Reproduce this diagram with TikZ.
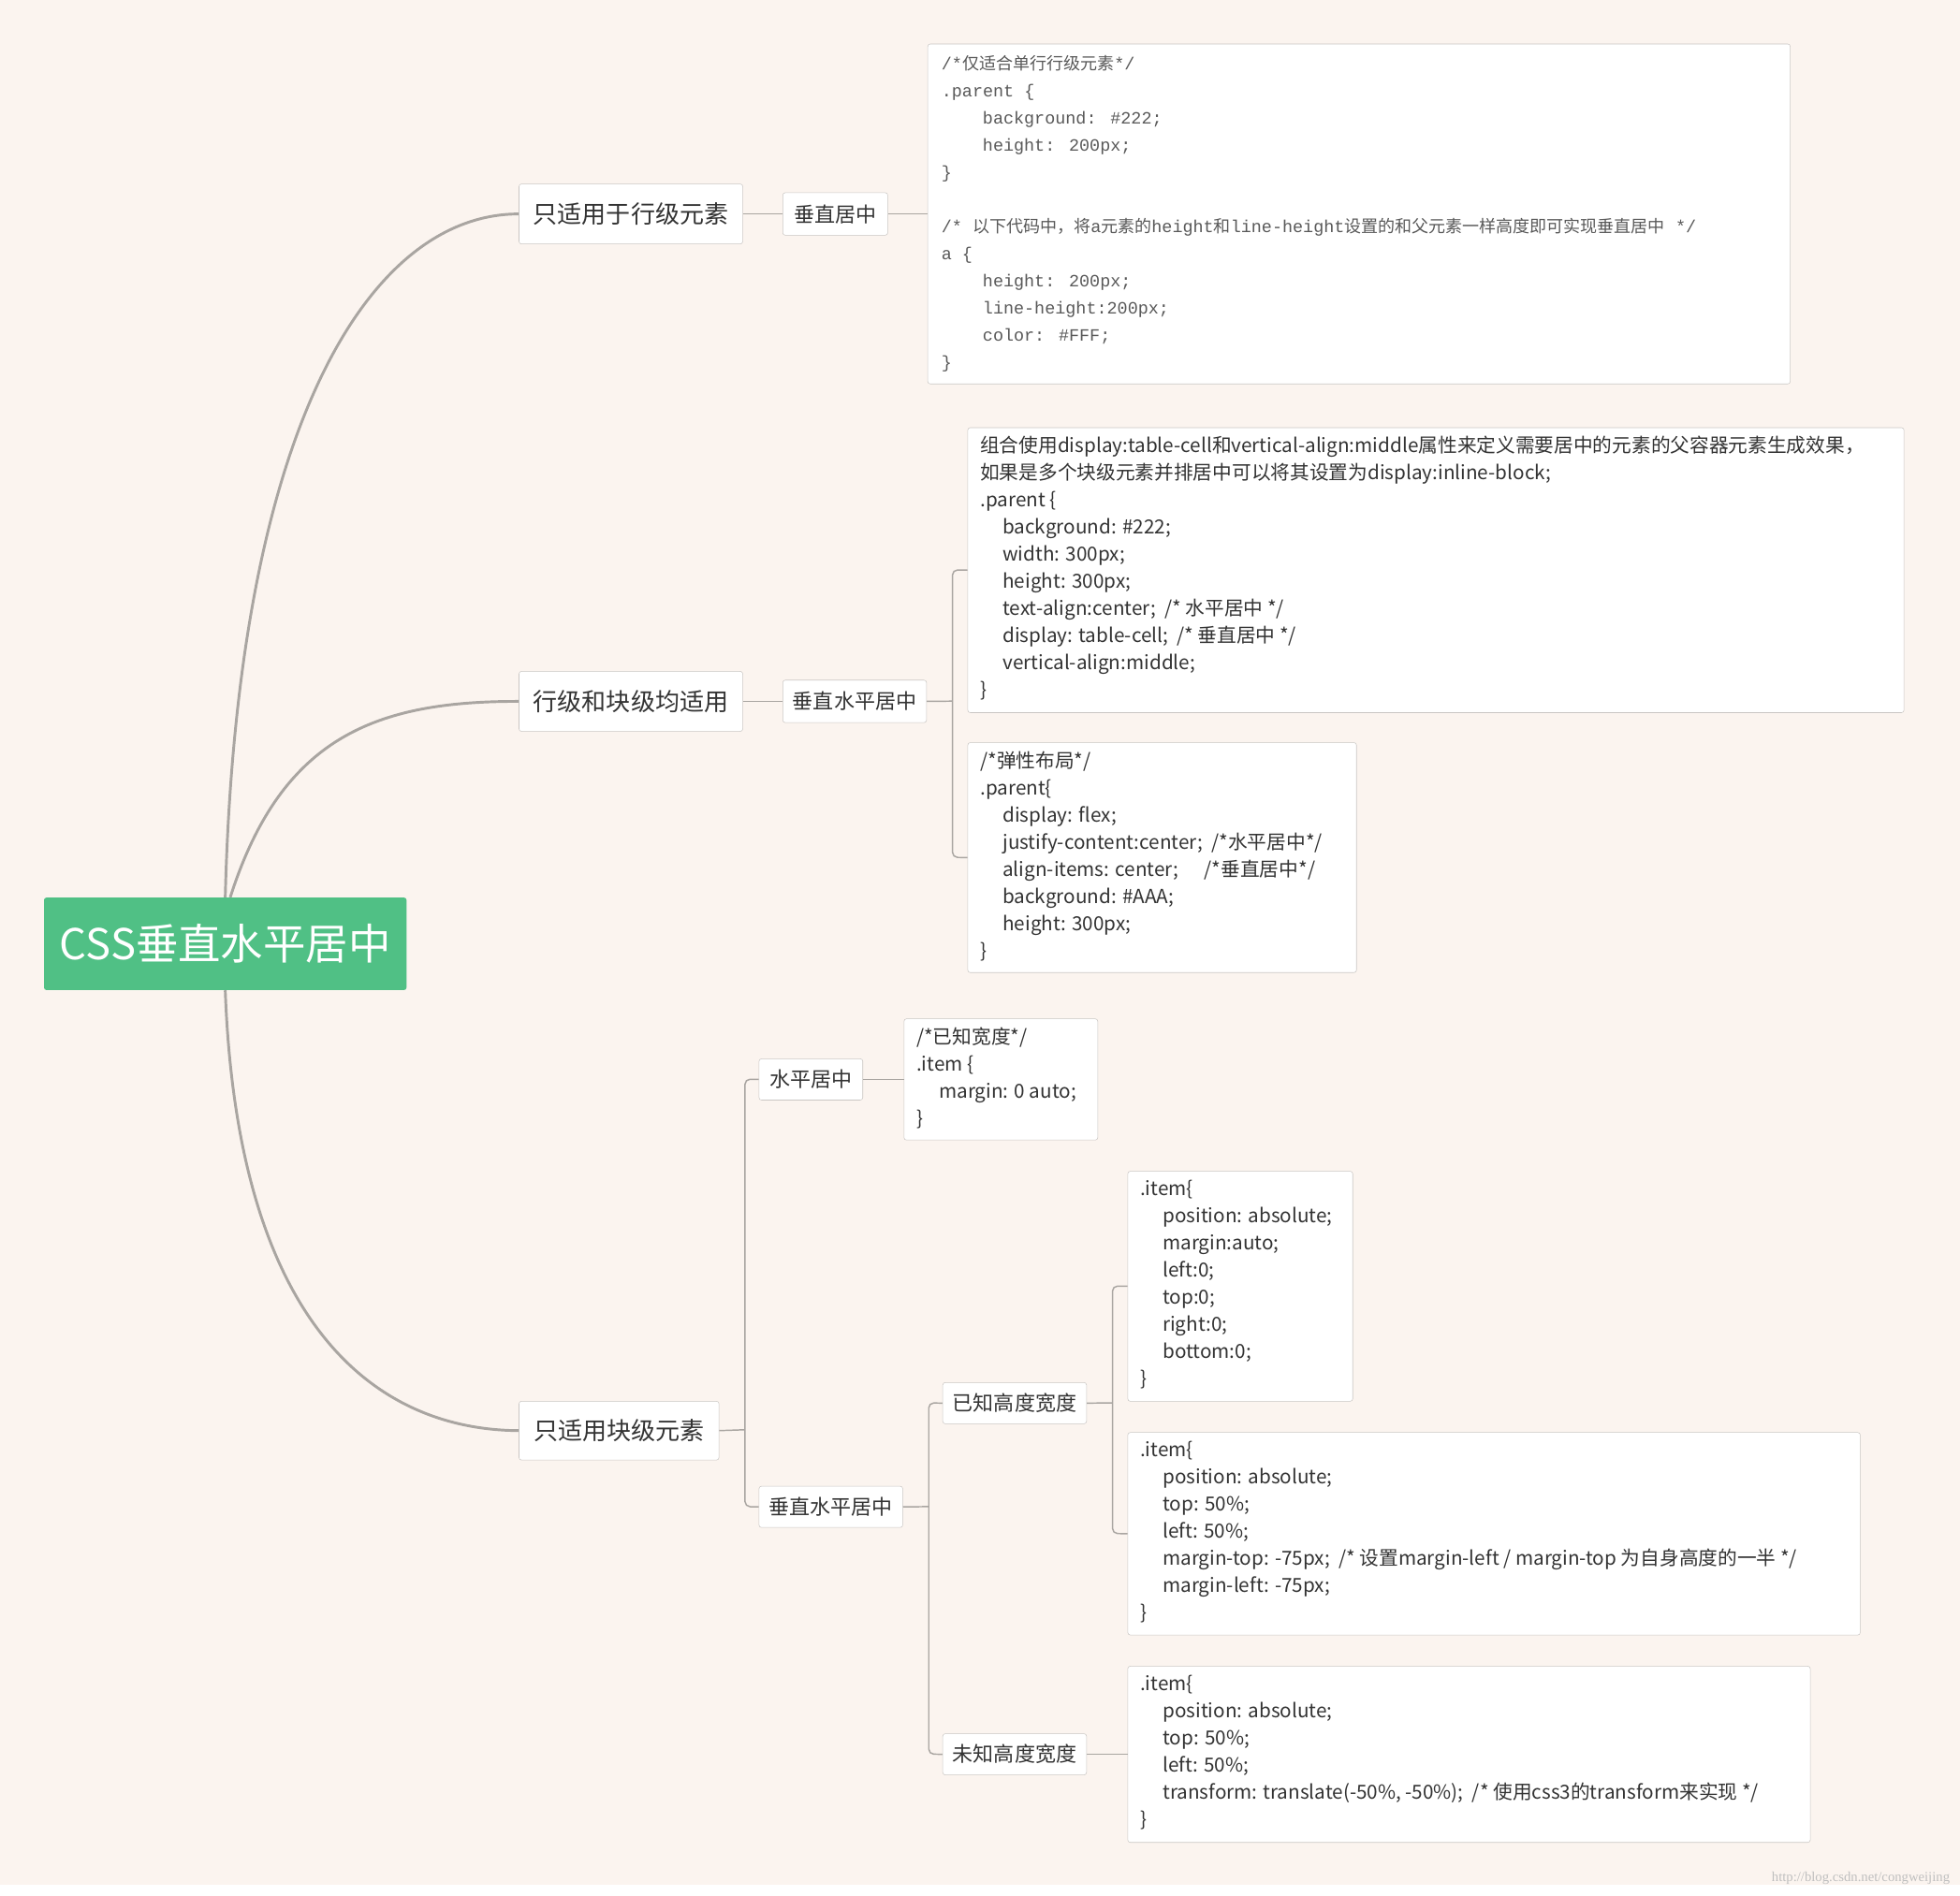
\documentclass[tikz,border=0pt]{standalone}
\usepackage{fontspec}
\setmainfont{Noto Sans CJK SC}
\newfontfamily\monof{Liberation Mono}
\newfontfamily\cjkf{Noto Sans CJK SC}
\newcommand\zh[1]{{\cjkf\fontsize{13.5}{21.7}\selectfont #1}}
\newcommand\ind{\hspace*{18pt}}
\newcommand\mind{\hspace*{33pt}}
\definecolor{bg}{HTML}{FBF4EF}
\definecolor{lnk}{HTML}{A9A5A1}
\definecolor{bd}{HTML}{C9C6C3}
\definecolor{txt}{HTML}{333333}
\definecolor{grn}{HTML}{50C085}
\usetikzlibrary{calc}
\tikzset{
  topic/.style={draw=bd,fill=white,rounded corners=2pt,inner sep=0pt,text=txt,anchor=north west,font=\fontsize{19.5}{22}\selectfont},
  sub/.style={draw=bd,fill=white,rounded corners=2pt,inner sep=0pt,text=txt,anchor=north west,font=\fontsize{16.5}{20}\selectfont},
  codebox/.style={draw=bd,fill=white,rounded corners=2pt,inner sep=0pt,anchor=north west},
  codetxt/.style={anchor=north west,align=left,inner sep=0pt,text=txt,font=\fontsize{15.5}{21.7}\selectfont},
  monotxt/.style={anchor=north west,align=left,inner sep=0pt,text=black!65,font=\monof\fontsize{13.8}{21.7}\selectfont},
  mainlink/.style={draw=lnk,line width=2.2pt},
  link/.style={draw=lnk,line width=1.1pt,rounded corners=4pt}
}
\begin{document}
\begin{tikzpicture}[x=1pt,y=-1pt]
\useasboundingbox (0,0) rectangle (1568,1517);
\fill[white] (0,0) rectangle (1568,1517);
\fill[bg] (0,0) rectangle (1568,1508);
% root
\node[fill=grn,rounded corners=2pt,minimum width=290pt,minimum height=74pt,inner sep=0pt,text=white,font=\fontsize{34}{40}\selectfont,anchor=north west] (root) at (35,718) {CSS垂直水平居中};
% topics
\node[topic,minimum width=179pt,minimum height=48pt] (a1) at (415,147) {只适用于行级元素};
\node[topic,minimum width=179pt,minimum height=48pt] (a2) at (415,537) {行级和块级均适用};
\node[topic,minimum width=160pt,minimum height=47pt] (a3) at (415,1121) {只适用块级元素};
\node[sub,minimum width=84pt,minimum height=34pt] (b1) at (626,154) {垂直居中};
\node[sub,minimum width=115pt,minimum height=34pt] (b2) at (626,544) {垂直水平居中};
\node[sub,minimum width=83pt,minimum height=33pt] (b3) at (607,847) {水平居中};
\node[sub,minimum width=115pt,minimum height=33pt] (b4) at (607,1189) {垂直水平居中};
\node[sub,minimum width=115pt,minimum height=33pt] (d1) at (754,1106) {已知高度宽度};
\node[sub,minimum width=115pt,minimum height=33pt] (d2) at (754,1387) {未知高度宽度};
% code boxes
\node[codebox,minimum width=690pt,minimum height=272pt] (c1) at (742,35) {};
\node[codebox,minimum width=749pt,minimum height=228pt] (c2) at (774,342) {};
\node[codebox,minimum width=311pt,minimum height=184pt] (c3) at (774,594) {};
\node[codebox,minimum width=155pt,minimum height=97pt] (c4) at (723,815) {};
\node[codebox,minimum width=180pt,minimum height=184pt] (e1) at (902,937) {};
\node[codebox,minimum width=586pt,minimum height=162pt] (e2) at (902,1146) {};
\node[codebox,minimum width=546pt,minimum height=141pt] (e3) at (902,1333) {};
% code texts
\node[monotxt] (t1) at ($(c1.north west)+(11,9)$) {/*\zh{仅适合单行行级元素}*/\\
.parent \{\\
\mind background: \#222;\\
\mind height: 200px;\\
\}\\
\mbox{}\\
/* \zh{以下代码中，将}a\zh{元素的}height\zh{和}line-height\zh{设置的和父元素一样高度即可实现垂直居中} */\\
a \{\\
\mind height: 200px;\\
\mind line-height:200px;\\
\mind color: \#FFF;\\
\}};
\node[codetxt] (t2) at ($(c2.north west)+(10,7)$) {组合使用display:table-cell和vertical-align:middle属性来定义需要居中的元素的父容器元素生成效果，\\
如果是多个块级元素并排居中可以将其设置为display:inline-block;\\
.parent \{\\
\ind background: \#222;\\
\ind width: 300px;\\
\ind height: 300px;\\
\ind text-align:center;\ \ /* 水平居中 */\\
\ind display: table-cell;\ \ /* 垂直居中 */\\
\ind vertical-align:middle;\\
\}};
\node[codetxt] (t3) at ($(c3.north west)+(10,7)$) {/*弹性布局*/\\
.parent\{\\
\ind display: flex;\\
\ind justify-content:center;\ \ /*水平居中*/\\
\ind align-items: center;\ \ \ \ \ \ /*垂直居中*/\\
\ind background: \#AAA;\\
\ind height: 300px;\\
\}};
\node[codetxt] (t4) at ($(c4.north west)+(10,7)$) {/*已知宽度*/\\
.item \{\\
\ind margin: 0 auto;\\
\}};
\node[codetxt] (t5) at ($(e1.north west)+(10,7)$) {.item\{\\
\ind position: absolute;\\
\ind margin:auto;\\
\ind left:0;\\
\ind top:0;\\
\ind right:0;\\
\ind bottom:0;\\
\}};
\node[codetxt] (t6) at ($(e2.north west)+(10,7)$) {.item\{\\
\ind position: absolute;\\
\ind top: 50\%;\\
\ind left: 50\%;\\
\ind margin-top: -75px;\ \ /* 设置margin-left / margin-top 为自身高度的一半 */\\
\ind margin-left: -75px;\\
\}};
\node[codetxt] (t7) at ($(e3.north west)+(10,7)$) {.item\{\\
\ind position: absolute;\\
\ind top: 50\%;\\
\ind left: 50\%;\\
\ind transform: translate(-50\%, -50\%);\ \ /* 使用css3的transform来实现 */\\
\}};
% main links
\draw[mainlink] (root.north) .. controls (190,330) and (300,171) .. (a1.west);
\draw[mainlink] ($(root.north)+(4,0)$) .. controls (225,590) and (300,561) .. (a2.west);
\draw[mainlink] (root.south) .. controls (190,1060) and (300,1144) .. (a3.west);
% tree links
\draw[link] (a1.east) -- (b1.west);
\draw[link] (b1.east) -- (c1.west |- b1.east);
\draw[link] (a2.east) -- (b2.west);
\draw[link] (b2.east) -- (762,561);
\draw[link] (c2.west) -- (762,456) -- (762,686) -- (c3.west);
\draw[link] (a3.east) -- (596,1144);
\draw[link] (b3.west) -- (596,863.5) -- (596,1205.5) -- (b4.west);
\draw[link] (b3.east) -- (c4.west);
\draw[link] (b4.east) -- (743,1205.5);
\draw[link] (d1.west) -- (743,1122.5) -- (743,1403.5) -- (d2.west);
\draw[link] (d1.east) -- (890,1122.5);
\draw[link] (e1.west) -- (890,1029) -- (890,1227) -- (e2.west);
\draw[link] (d2.east) -- (e3.west |- d2.east);
\node[anchor=east,inner sep=0pt,text=black!25,font=\fontspec{Liberation Serif}\fontsize{11}{12}\selectfont] (wm) at (1560,1503) {http://blog.csdn.net/congweijing};
\end{tikzpicture}
\end{document}
